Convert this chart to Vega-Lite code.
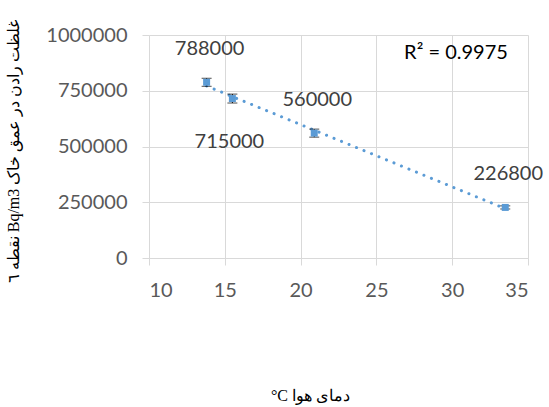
{
  "$schema": "https://vega.github.io/schema/vega-lite/v6.json",
  "autosize": "none",
  "width": 379,
  "height": 223,
  "padding": {"left": 149, "top": 35, "right": 21, "bottom": 149},
  "background": "white",
  "datasets": {
    "pts": [
      {"temp": 13.8, "radon": 788000, "err": 18000, "label": "788000"},
      {"temp": 15.5, "radon": 715000, "err": 20000, "label": "715000"},
      {"temp": 20.9, "radon": 560000, "err": 18000, "label": "560000"},
      {"temp": 33.5, "radon": 226800, "err": 7000, "label": "226800"}
    ],
    "r2": [{"temp": 30.25, "radon": 921000, "label": "R² = 0.9975"}]
  },
  "config": {
    "view": {"stroke": null},
    "axis": {
      "gridColor": "#D9D9D9",
      "gridWidth": 1,
      "tickColor": "#D9D9D9",
      "tickSize": 7,
      "domainColor": "#D9D9D9",
      "labelFont": "Lato",
      "labelFontSize": 20,
      "labelColor": "#595959",
      "titleFont": "Liberation Serif",
      "titleFontSize": 16,
      "titleFontWeight": "normal",
      "titleColor": "#000000"
    }
  },
  "encoding": {
    "x": {"field": "temp", "type": "quantitative",
      "scale": {"domain": [10, 35], "nice": false, "zero": false},
      "axis": {"values": [10, 15, 20, 25, 30, 35], "domain": true, "labelPadding": 15,
        "title": "°C دمای هوا", "titleX": 161, "titleY": 137, "titleBaseline": "middle", "titleFontSize": 16}},
    "y": {"field": "radon", "type": "quantitative",
      "scale": {"domain": [0, 1000000], "nice": false},
      "axis": {"values": [0, 250000, 500000, 750000, 1000000], "domain": false, "labelPadding": 15,
        "format": "d",
        "title": "نقطه ٦ Bq/m3 غلظت رادن در عمق خاک", "titleX": -136, "titleY": 116, "titleBaseline": "middle"}}
  },
  "layer": [
    {
      "data": {"name": "pts"},
      "transform": [{"regression": "radon", "on": "temp"}],
      "mark": {"type": "line", "color": "#5B9BD5", "strokeWidth": 3, "strokeDash": [0.1, 8], "strokeCap": "round"}
    },
    {
      "data": {"name": "pts"},
      "mark": {"type": "errorbar", "ticks": {"size": 10, "color": "#000000"}, "rule": {"color": "#000000"}},
      "encoding": {
        "yError": {"field": "err"}
      }
    },
    {
      "data": {"name": "pts"},
      "mark": {"type": "square", "size": 49, "color": "#5B9BD5", "opacity": 1, "filled": true}
    },
    {
      "data": {"name": "pts"},
      "transform": [{"filter": "datum.radon != 715000"}],
      "mark": {"type": "text", "font": "Lato", "fontSize": 20, "color": "#404040", "dy": -33, "dx": 3},
      "encoding": {
        "text": {"field": "label"}
      }
    },
    {
      "data": {"name": "pts"},
      "transform": [{"filter": "datum.radon == 715000"}],
      "mark": {"type": "text", "font": "Lato", "fontSize": 20, "color": "#404040", "dy": 43, "dx": -3},
      "encoding": {
        "text": {"field": "label"}
      }
    },
    {
      "data": {"name": "r2"},
      "mark": {"type": "text", "font": "Lato", "fontSize": 20, "color": "#000000"},
      "encoding": {
        "text": {"field": "label"}
      }
    }
  ]
}
